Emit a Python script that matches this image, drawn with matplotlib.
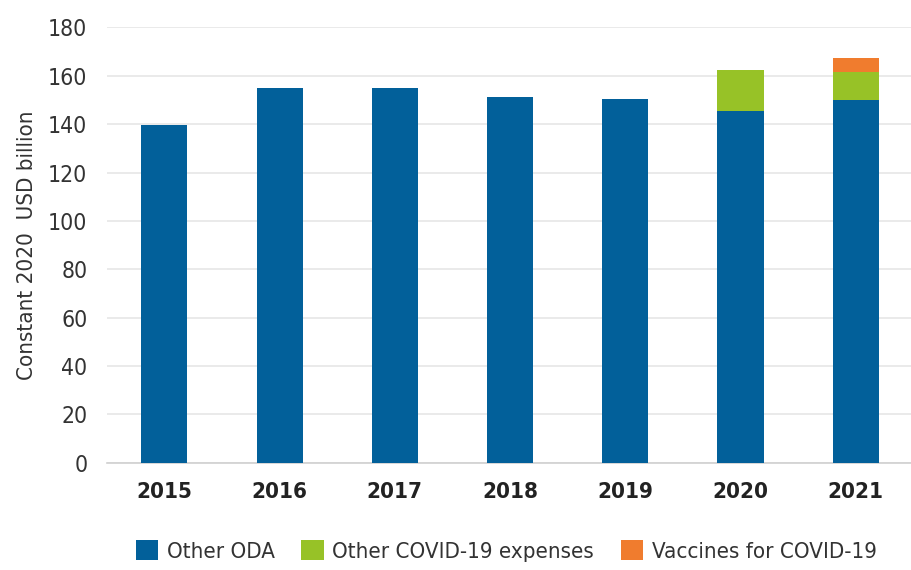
import numpy as np
import matplotlib.pyplot as plt

years = ['2015', '2016', '2017', '2018', '2019', '2020', '2021']
other_oda = [139.7, 155.0, 155.0, 151.2, 150.5, 145.6, 149.8]
other_covid = [0, 0, 0, 0, 0, 16.6, 11.8]
vaccines = [0, 0, 0, 0, 0, 0, 5.7]
y_ticks = [0, 20, 40, 60, 80, 100, 120, 140, 160, 180]

plt.rcParams['font.family'] = ['DejaVu Sans']
plt.rcParams['font.stretch'] = 'condensed'

fig = plt.figure(figsize=(9.12, 5.70), dpi=100)
ax = fig.add_axes([0.117, 0.188, 0.882, 0.764])

x = np.arange(len(years))
width = 0.4
blue, green, orange = '#02609a', '#97c227', '#f07c2e'

ax.bar(x, other_oda, width, color=blue, label='Other ODA', zorder=3)
ax.bar(x, other_covid, width, bottom=other_oda, color=green,
       label='Other COVID-19 expenses', zorder=3)
bottom2 = np.array(other_oda) + np.array(other_covid)
ax.bar(x, vaccines, width, bottom=bottom2, color=orange,
       label='Vaccines for COVID-19', zorder=3)

ax.set_xlim(-0.5, 6.48)
ax.set_ylim(0, 180)
ax.set_yticks(y_ticks)
ax.set_xticks(x)
ax.set_xticklabels(years, fontsize=16, fontweight='bold', color='#222222')
ax.tick_params(axis='y', labelsize=16.5, labelcolor='#333333', length=0, pad=14)
ax.tick_params(axis='x', length=0, pad=14)
ax.yaxis.grid(True, color='#e6e6e6', linewidth=1.2, zorder=0)

for s in ['top', 'right', 'left']:
    ax.spines[s].set_visible(False)
ax.spines['bottom'].set_color('#d0d0d0')
ax.spines['bottom'].set_linewidth(1.2)

ax.set_ylabel('Constant 2020  USD billion', fontsize=16, color='#333333', labelpad=8)

fig.legend(loc='center', bbox_to_anchor=(0.555, 0.033), ncol=3, frameon=False,
           fontsize=16, handlelength=1.0, handleheight=1.0, handletextpad=0.4,
           columnspacing=1.2, labelcolor='#333333')

fig.savefig('out.png', dpi=100)
